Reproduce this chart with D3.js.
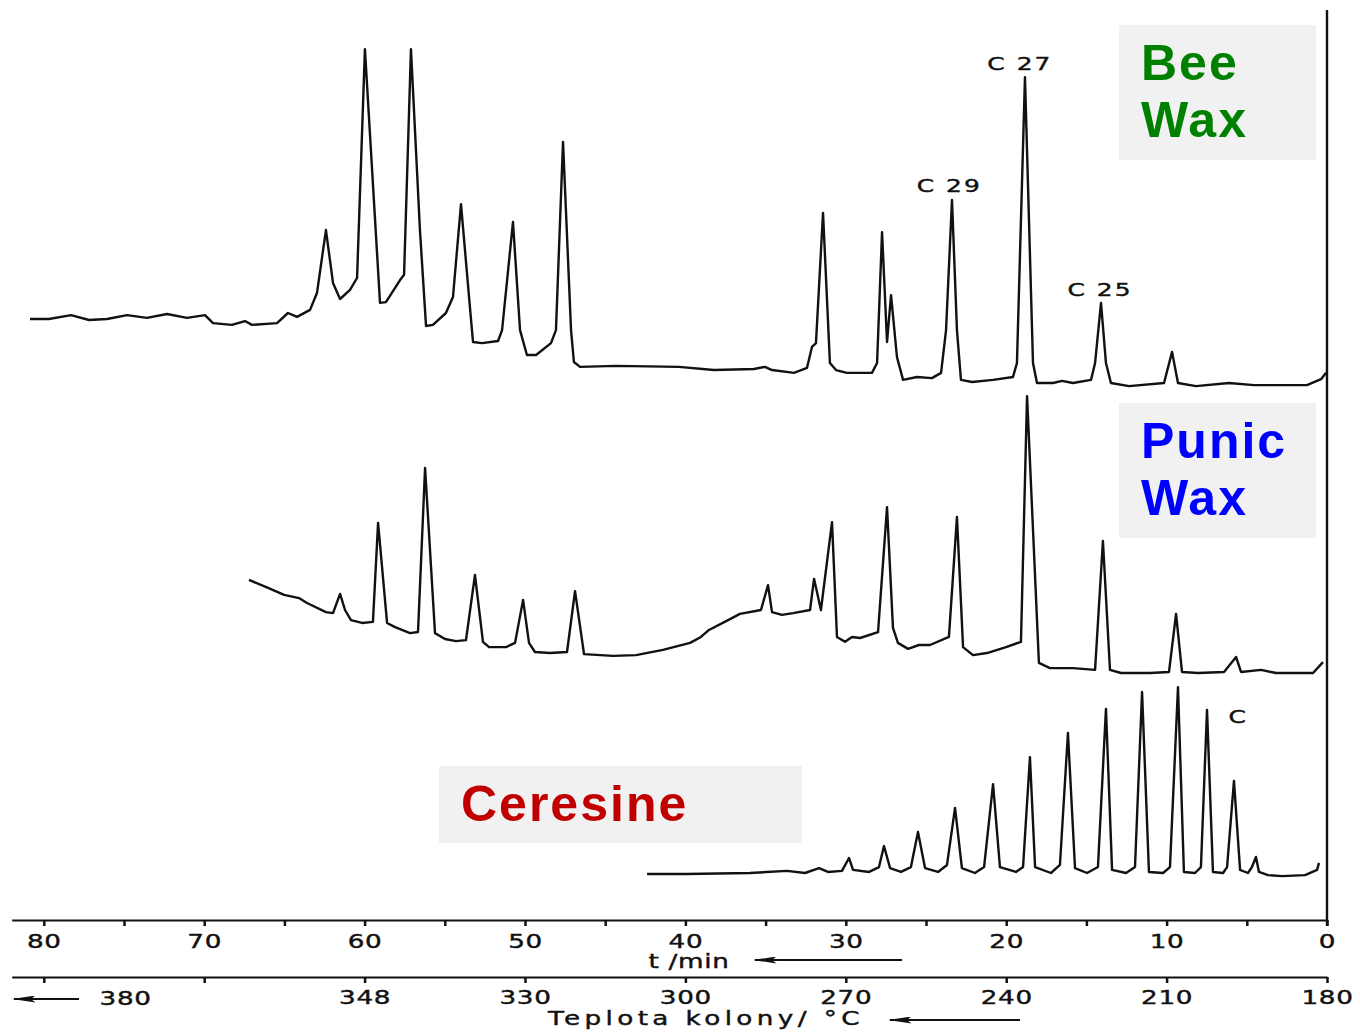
<!DOCTYPE html>
<html>
<head>
<meta charset="utf-8">
<script src="https://cdn.jsdelivr.net/npm/d3@7.9.0/dist/d3.min.js"></script>
<style>
  body { margin: 0; background: #fff; }
  svg { display: block; }
</style>
</head>
<body>
<svg id="chart" width="1360" height="1033"></svg>
<script>
// retention time (min), detector signal (relative units)
const beeWax = [
  [80.86, 20.3], [79.68, 20.3], [78.30, 21.4], [77.18, 20.0], [76.06, 20.3], [74.81, 21.4],
  [73.57, 20.6], [72.32, 21.7], [71.07, 20.6], [69.95, 21.4], [69.45, 19.1], [68.27, 18.6],
  [67.46, 19.7], [67.02, 18.6], [65.46, 19.1], [64.78, 22.0], [64.21, 20.9], [63.40, 22.9],
  [62.97, 27.7], [62.41, 45.7], [61.97, 30.6], [61.53, 26.0], [60.91, 28.6], [60.47, 32.0],
  [59.98, 97.4], [59.04, 24.9], [58.67, 25.1], [57.79, 31.4], [57.54, 32.9], [57.11, 97.4],
  [56.55, 45.7], [56.17, 18.3], [55.74, 18.6], [54.93, 22.0], [54.49, 26.6], [53.99, 53.1],
  [53.49, 26.6], [53.24, 13.7], [52.68, 13.4], [51.68, 14.0], [51.43, 17.1], [50.75, 48.0],
  [50.31, 17.1], [49.88, 10.0], [49.31, 10.0], [48.38, 13.4], [48.07, 17.1], [47.63, 70.9],
  [47.13, 17.1], [46.95, 8.0], [46.57, 6.6], [44.33, 6.9], [40.40, 6.6], [38.22, 5.7],
  [35.72, 6.0], [35.04, 6.6], [34.60, 5.7], [33.23, 4.9], [32.42, 6.3], [32.11, 12.3],
  [31.86, 13.4], [31.42, 50.6], [30.99, 7.7], [30.61, 5.7], [29.93, 4.9], [28.37, 4.9],
  [28.05, 7.7], [27.74, 45.1], [27.43, 13.7], [27.18, 27.1], [26.81, 9.4], [26.43, 2.9],
  [25.56, 3.7], [24.63, 3.4], [24.06, 4.9], [23.75, 17.1], [23.38, 54.3], [23.07, 17.1],
  [22.82, 2.9], [22.13, 2.3], [20.82, 2.9], [19.58, 3.7], [19.33, 7.7], [18.83, 89.4],
  [18.33, 7.7], [18.08, 2.0], [17.08, 2.0], [16.52, 2.6], [15.84, 2.0], [14.71, 2.9],
  [14.46, 7.7], [14.09, 24.9], [13.78, 7.7], [13.47, 2.0], [12.34, 1.1], [10.16, 2.0],
  [9.66, 10.9], [9.29, 2.0], [8.17, 1.1], [6.11, 2.0], [4.55, 1.4], [3.18, 1.4],
  [1.25, 1.4], [0.37, 3.1], [0.06, 4.9]
];

const punicWax = [
  [67.21, 28.6], [66.02, 26.3], [65.02, 24.3], [64.09, 23.4], [63.59, 22.0], [62.41, 19.4],
  [61.97, 19.1], [61.53, 24.6], [61.22, 20.0], [60.85, 17.1], [60.16, 16.3], [59.48, 16.6],
  [59.16, 44.9], [58.60, 16.3], [58.10, 15.1], [57.17, 13.4], [56.67, 13.7], [56.23, 60.6],
  [55.61, 13.4], [54.99, 11.7], [54.30, 11.1], [53.68, 11.4], [53.12, 30.0], [52.62, 10.9],
  [52.24, 9.4], [51.18, 9.4], [50.62, 10.6], [50.12, 22.9], [49.75, 10.6], [49.38, 8.0],
  [48.44, 7.7], [47.38, 8.0], [46.88, 25.4], [46.32, 7.4], [44.51, 6.9], [43.08, 7.1],
  [41.40, 8.6], [39.71, 10.6], [39.03, 12.3], [38.53, 14.3], [37.34, 17.1], [36.60, 18.9],
  [35.29, 20.0], [34.85, 27.1], [34.60, 19.4], [33.98, 18.6], [33.29, 19.1], [32.23, 20.0],
  [31.98, 28.9], [31.55, 20.0], [30.86, 45.1], [30.55, 12.3], [30.05, 10.9], [29.61, 12.3],
  [29.11, 12.0], [27.99, 13.7], [27.43, 49.4], [27.06, 14.9], [26.75, 10.6], [26.12, 8.9],
  [25.44, 10.0], [24.75, 10.0], [23.57, 12.3], [23.07, 46.6], [22.69, 9.4], [22.07, 7.1],
  [21.20, 7.7], [20.01, 9.4], [19.08, 10.9], [18.70, 81.1], [17.96, 4.9], [17.27, 3.4],
  [15.84, 3.4], [14.46, 2.9], [13.97, 39.7], [13.53, 2.9], [12.84, 2.0], [11.04, 2.0],
  [9.85, 2.3], [9.41, 18.9], [9.04, 2.3], [8.04, 2.0], [6.42, 2.3], [5.67, 6.6],
  [5.36, 2.3], [4.11, 2.9], [3.18, 2.0], [0.87, 2.0], [0.25, 5.1]
];

const ceresine = [
  [42.39, 1.7], [39.96, 1.7], [35.97, 2.0], [33.67, 2.6], [32.54, 2.0], [31.67, 3.4],
  [31.11, 2.3], [30.24, 2.6], [29.80, 6.3], [29.55, 2.9], [28.55, 2.3], [27.93, 3.7],
  [27.62, 9.7], [27.24, 3.4], [26.56, 2.3], [25.94, 3.7], [25.50, 13.7], [25.06, 3.4],
  [24.25, 2.3], [23.69, 4.3], [23.19, 20.6], [22.76, 3.4], [21.95, 2.0], [21.38, 3.7],
  [20.82, 27.4], [20.39, 3.7], [19.39, 2.3], [18.95, 3.7], [18.52, 35.1], [18.20, 3.7],
  [17.21, 2.0], [16.65, 4.3], [16.15, 42.0], [15.71, 3.4], [14.96, 2.0], [14.28, 3.7],
  [13.78, 48.9], [13.40, 2.9], [12.53, 2.0], [11.97, 3.7], [11.53, 53.7], [11.10, 2.3],
  [10.22, 2.0], [9.79, 3.7], [9.29, 55.1], [8.92, 2.3], [8.23, 2.0], [7.86, 3.7],
  [7.48, 48.6], [7.11, 2.3], [6.48, 2.0], [6.23, 3.7], [5.80, 28.3], [5.42, 2.9],
  [4.93, 2.0], [4.68, 3.7], [4.43, 6.6], [4.24, 2.3], [3.68, 1.4], [2.81, 1.1],
  [1.37, 1.4], [0.62, 2.9], [0.50, 4.9]
];

const timeTicks = d3.range(0, 81, 5);
const timeLabelled = [0, 10, 20, 30, 40, 50, 60, 70, 80];
const tempTicks = [0, 10, 20, 30, 40, 50, 60, 70, 80];
const tempLabels = ['180', '210', '240', '270', '300', '330', '348', '', ''];
const lastTemp = { t: 74.9, label: '380' };

const beeLabels = [
  { t: 23.55, s: 56.5, text: 'C 29' },
  { t: 19.15, s: 91.5, text: 'C 27' },
  { t: 14.15, s: 27.0, text: 'C 25' }
];
const ceresineLabels = [{ t: 5.6, s: 45, text: 'C' }];

const svg = d3.select('#chart');

const x = d3.scaleLinear().domain([0, 82]).range([1327, 1327 - 82 * 16.04]);

// one vertical band per trace, same signal scale
const yBee = d3.scaleLinear().domain([0, 100]).range([390, 40]);
const yPunic = d3.scaleLinear().domain([0, 100]).range([680, 330]);
const yCer = d3.scaleLinear().domain([0, 100]).range([880, 530]);

const traces = [
  { data: beeWax, y: yBee },
  { data: punicWax, y: yPunic },
  { data: ceresine, y: yCer }
];

const ink = '#111';
const labelFont = 'DejaVu Sans, sans-serif';
const stretch = 1.38; // the scanned lettering is much wider than DejaVu

// slim arrow head, tip at the end of the line
svg.append('defs').append('marker')
  .attr('id', 'arrow')
  .attr('viewBox', '0 0 10 10')
  .attr('refX', 9).attr('refY', 5)
  .attr('markerWidth', 24).attr('markerHeight', 7)
  .attr('preserveAspectRatio', 'none')
  .attr('markerUnits', 'userSpaceOnUse')
  .attr('orient', 'auto')
  .append('path')
  .attr('d', 'M10,5 L0,0 L2,5 L0,10 Z')
  .attr('fill', ink);

// label boxes
const boxes = [
  { x: 1119, y: 25, w: 197, h: 135, lines: ['Bee', 'Wax'], color: '#008000', tx: 1141, ty: [80, 137] },
  { x: 1119, y: 403, w: 197, h: 135, lines: ['Punic', 'Wax'], color: '#0000ff', tx: 1141, ty: [458, 515] },
  { x: 439, y: 766, w: 363, h: 77, lines: ['Ceresine'], color: '#c00000', tx: 461, ty: [821] }
];
boxes.forEach(b => {
  svg.append('rect')
    .attr('x', b.x).attr('y', b.y).attr('width', b.w).attr('height', b.h)
    .attr('fill', '#f1f1f1');
  b.lines.forEach((line, i) => {
    svg.append('text')
      .attr('x', b.tx).attr('y', b.ty[i])
      .attr('font-family', 'Liberation Sans, Arial, sans-serif')
      .attr('font-weight', 'bold')
      .attr('font-size', 50)
      .attr('letter-spacing', 2)
      .attr('fill', b.color)
      .text(line);
  });
});

const line = d3.line().x(d => x(d[0]));

traces.forEach(tr => {
  svg.append('path')
    .datum(tr.data)
    .attr('d', line.y(d => tr.y(d[1])))
    .attr('fill', 'none')
    .attr('stroke', ink)
    .attr('stroke-width', 2.4)
    .attr('stroke-linejoin', 'round');
});

// wide lettering helper: text is drawn at origin and stretched horizontally
function wideText(g, px, py, str, size, anchor, spacing) {
  return g.append('text')
    .attr('transform', `translate(${px},${py}) scale(${stretch},1)`)
    .attr('text-anchor', anchor)
    .attr('font-family', labelFont)
    .attr('font-size', size)
    .attr('letter-spacing', spacing)
    .attr('fill', ink)
    .attr('stroke', ink).attr('stroke-width', 0.4)
    .text(str);
}

beeLabels.forEach(d => wideText(svg, x(d.t), yBee(d.s), d.text, 18, 'middle', 1.5));
ceresineLabels.forEach(d => wideText(svg, x(d.t), yCer(d.s), d.text, 18, 'middle', 0));

// right-hand frame line (t = 0 injection)
svg.append('line')
  .attr('x1', x(0)).attr('x2', x(0))
  .attr('y1', 10).attr('y2', 926)
  .attr('stroke', ink).attr('stroke-width', 2.4);

// time axis
const timeAxis = d3.axisBottom(x)
  .tickValues(timeTicks)
  .tickSize(6)
  .tickSizeOuter(0)
  .tickPadding(9)
  .tickFormat(d => timeLabelled.includes(d) ? d : '');

const gTime = svg.append('g')
  .attr('transform', 'translate(0,920)')
  .call(timeAxis);

// temperature axis
const tempAxis = d3.axisBottom(x)
  .tickValues(tempTicks)
  .tickSize(6)
  .tickSizeOuter(0)
  .tickPadding(8)
  .tickFormat((d, i) => tempLabels[i]);

const gTemp = svg.append('g')
  .attr('transform', 'translate(0,977)')
  .call(tempAxis);

[gTime, gTemp].forEach(g => {
  g.select('.domain').attr('stroke', ink).attr('stroke-width', 2);
  g.selectAll('.tick line').attr('stroke', ink).attr('stroke-width', 2.5);
  g.selectAll('.tick text')
    .attr('font-family', labelFont)
    .attr('font-size', 19)
    .attr('letter-spacing', 0.5)
    .attr('fill', ink)
    .attr('stroke', ink).attr('stroke-width', 0.4)
    .attr('transform', `scale(${stretch},1)`);
});

// last temperature with arrow
svg.append('line')
  .attr('x1', 79).attr('x2', 14)
  .attr('y1', 999).attr('y2', 999)
  .attr('stroke', ink).attr('stroke-width', 2)
  .attr('marker-end', 'url(#arrow)');
wideText(svg, x(lastTemp.t), 1005, lastTemp.label, 19, 'middle', 0.5);

// axis titles with arrows
wideText(svg, 689, 968, 't /min', 19, 'middle', 0.5);
svg.append('line')
  .attr('x1', 902).attr('x2', 755)
  .attr('y1', 960).attr('y2', 960)
  .attr('stroke', ink).attr('stroke-width', 2)
  .attr('marker-end', 'url(#arrow)');

wideText(svg, 548, 1025, 'Teplota  kolony/ °C', 19, 'start', 3.2);
svg.append('line')
  .attr('x1', 1020).attr('x2', 890)
  .attr('y1', 1020).attr('y2', 1020)
  .attr('stroke', ink).attr('stroke-width', 2)
  .attr('marker-end', 'url(#arrow)');
</script>
</body>
</html>
